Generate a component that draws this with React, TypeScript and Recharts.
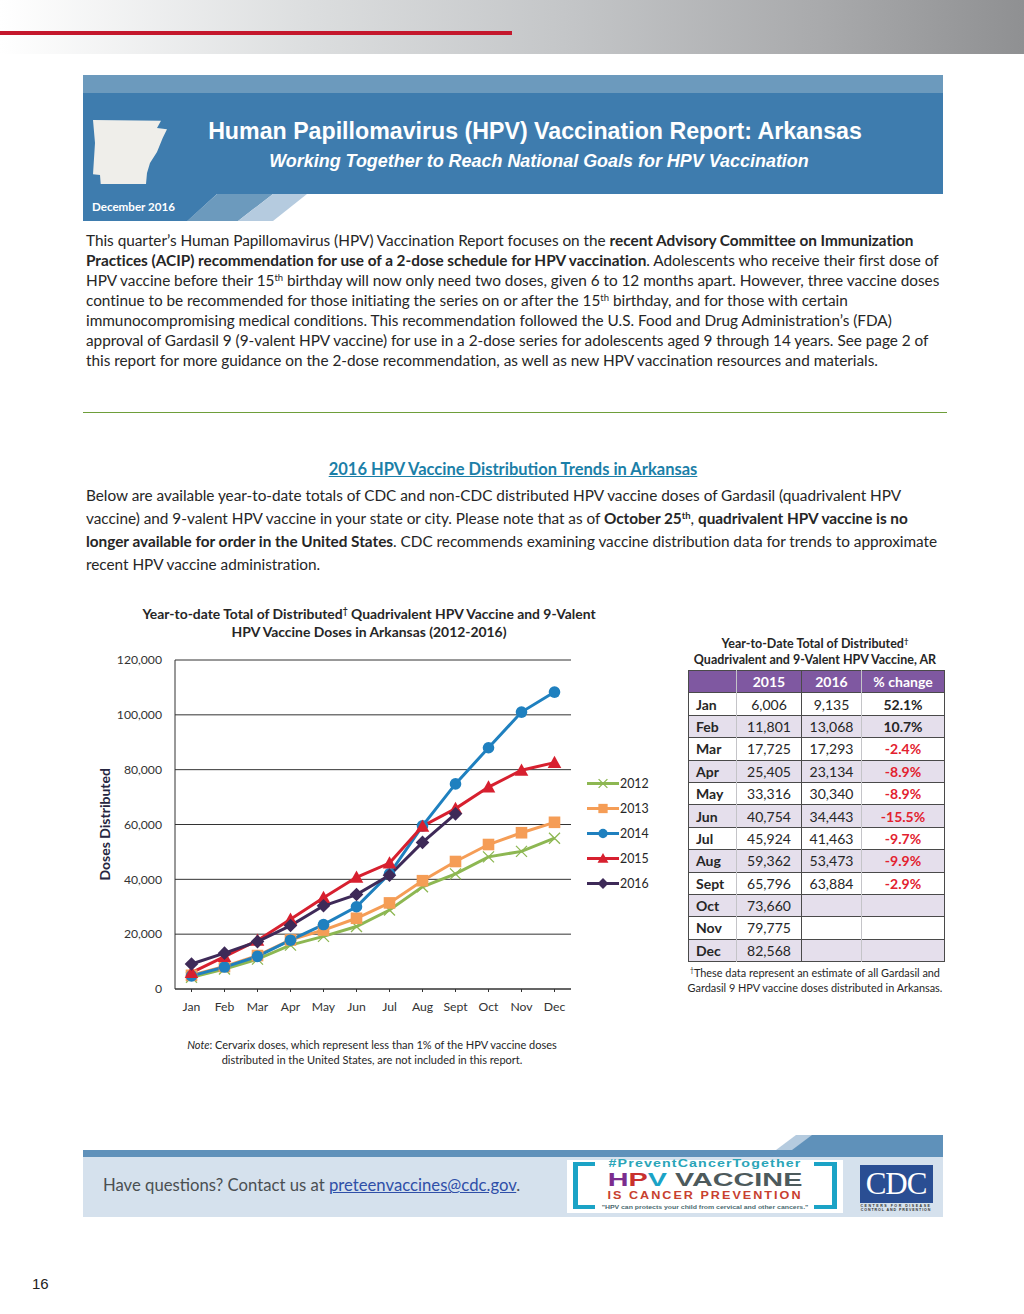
import React from "react";
import { LineChart, Line, XAxis, YAxis, CartesianGrid, Legend } from "recharts";

const months = ["Jan", "Feb", "Mar", "Apr", "May", "Jun", "Jul", "Aug", "Sept", "Oct", "Nov", "Dec"];
const yTicks = [0, 20000, 40000, 60000, 80000, 100000, 120000];

const doses2012 = [4300, 7300, 10900, 16000, 19200, 22800, 28800, 37300, 42000, 48200, 50200, 55000];
const doses2013 = [5000, 8200, 12200, 17900, 21500, 25800, 31400, 39500, 46500, 52700, 57000, 60800];
const doses2014 = [4800, 8000, 11900, 17800, 23500, 30000, 42000, 59500, 74800, 88000, 101000, 108300];
// from the table
const doses2015 = [6006, 11801, 17725, 25405, 33316, 40754, 45924, 59362, 65796, 73660, 79775, 82568];
const doses2016 = [9135, 13068, 17293, 23134, 30340, 34443, 41463, 53473, 63884];
const pctChange = [52.1, 10.7, -2.4, -8.9, -8.9, -15.5, -9.7, -9.9, -2.9];

const colors: any = { "2012": "#8DB752", "2013": "#F59D56", "2014": "#1F80BF", "2015": "#D7202F", "2016": "#3E2A58" };

const chartData = months.map((m, i) => ({
  month: m,
  y2012: doses2012[i],
  y2013: doses2013[i],
  y2014: doses2014[i],
  y2015: doses2015[i],
  y2016: i < doses2016.length ? doses2016[i] : null,
}));

const calibri = "Lato, 'Open Sans', sans-serif";
const arial = "'Liberation Sans', Arial, sans-serif";

function T({ x, y, size = 15, center, right, children, style }: any) {
  const base: any = {
    position: "absolute",
    top: y - 15,
    height: 30,
    lineHeight: "30px",
    whiteSpace: "nowrap",
    fontFamily: calibri,
    fontSize: size,
    color: "#262626",
  };
  if (center) {
    base.left = x - 500;
    base.width = 1000;
    base.textAlign = "center";
  } else {
    base.left = x;
  }
  return <div style={{ ...base, ...style }}>{children}</div>;
}

function Sup({ children }: any) {
  return <sup style={{ fontSize: "0.62em", lineHeight: 0, verticalAlign: "0.55em" }}>{children}</sup>;
}

function Marker({ name, cx, cy, scale = 1 }: any) {
  const c = colors[name];
  if (cy == null || cx == null) return null;
  if (name === "2012") {
    const r = 5.5 * scale;
    return <path d={`M${cx - r} ${cy - r}L${cx + r} ${cy + r}M${cx - r} ${cy + r}L${cx + r} ${cy - r}`} stroke={c} strokeWidth={1.3} fill="none" />;
  }
  if (name === "2013") {
    const r = 5.8 * scale;
    return <rect x={cx - r} y={cy - r} width={r * 2} height={r * 2} fill={c} />;
  }
  if (name === "2014") return <circle cx={cx} cy={cy} r={5.8 * scale} fill={c} />;
  if (name === "2015") {
    const r = 6.8 * scale;
    return <path d={`M${cx} ${cy - r}L${cx + r} ${cy + r * 0.8}L${cx - r} ${cy + r * 0.8}Z`} fill={c} />;
  }
  const r = 6.8 * scale;
  return <path d={`M${cx} ${cy - r}L${cx + r} ${cy}L${cx} ${cy + r}L${cx - r} ${cy}Z`} fill={c} />;
}

function LegendBox({ payload }: any) {
  return (
    <div>
      {(payload || []).map((p: any) => (
        <div key={p.value} style={{ height: 25, display: "flex", alignItems: "center", position: "relative" }}>
          <svg width={34} height={25} style={{ marginLeft: 16 }}>
            <line x1={0} x2={32} y1={12.5} y2={12.5} stroke={p.color} strokeWidth={3} />
            <Marker name={p.value} cx={16} cy={12.5} scale={0.8} />
          </svg>
          <span style={{ fontFamily: calibri, fontSize: 12.4, color: "#262626", marginLeft: -1 }}>{p.value}</span>
        </div>
      ))}
    </div>
  );
}

function DosesChart() {
  const series = ["2012", "2013", "2014", "2015", "2016"];
  return (
    <div style={{ position: "absolute", left: 90, top: 600 }}>
      <LineChart width={570} height={420} data={chartData} margin={{ top: 60, right: 0, bottom: 0, left: 0 }}>
        <CartesianGrid vertical={false} stroke="#333" strokeWidth={1} />
        <XAxis
          dataKey="month"
          height={31}
          padding={{ left: 16.5, right: 16.5 }}
          interval={0}
          tick={{ fontFamily: calibri, fontSize: 12.2, fill: "#333" }}
          tickSize={3}
          tickMargin={10}
          stroke="#333"
        />
        <YAxis
          width={85}
          domain={[0, 120000]}
          ticks={yTicks}
          tickFormatter={(v: number) => v.toLocaleString("en-US")}
          tick={{ fontFamily: calibri, fontSize: 12.2, fill: "#333" }}
          tickLine={false}
          tickSize={0}
          tickMargin={13}
          stroke="#333"
          label={{
            value: "Doses Distributed",
            angle: -90,
            position: "insideLeft",
            offset: 0,
            dx: 15,
            dy: 56,
            style: { fontFamily: calibri, fontSize: 14, fontWeight: 700, fill: "#262640" },
          }}
        />
        <Legend
          layout="vertical"
          align="right"
          verticalAlign="top"
          width={89}
          content={<LegendBox />}
          wrapperStyle={{ left: 481, top: 170.5, width: 89 }}
        />
        {series.map((s) => (
          <Line
            key={s}
            name={s}
            dataKey={"y" + s}
            stroke={colors[s]}
            strokeWidth={3}
            isAnimationActive={false}
            legendType="line"
            dot={(p: any) => <Marker key={p.index} name={s} cx={p.cx} cy={p.cy} />}
          />
        ))}
      </LineChart>
    </div>
  );
}

function DosesTable() {
  const cols = [48, 65, 60, 83];
  const line = "1px solid #4a4a4a";
  const soft = "1px solid #c4c4c8";
  const cell: any = { padding: 0, textAlign: "center", fontFamily: calibri, fontSize: 14, color: "#262626", boxSizing: "border-box" };
  return (
    <table
      style={{ position: "absolute", left: 688, top: 670, width: 256, tableLayout: "fixed", borderCollapse: "collapse", border: line }}
    >
      <colgroup>
        {cols.map((w, i) => (
          <col key={i} style={{ width: w }} />
        ))}
      </colgroup>
      <tbody>
        <tr style={{ height: 22.4, background: "#7F58A1" }}>
          <td style={{ ...cell, borderRight: soft }} />
          <td style={{ ...cell, color: "#fff", fontWeight: 700, borderRight: line }}>2015</td>
          <td style={{ ...cell, color: "#fff", fontWeight: 700, borderRight: soft }}>2016</td>
          <td style={{ ...cell, color: "#fff", fontWeight: 700 }}>% change</td>
        </tr>
        {months.map((m, i) => {
          const p = pctChange[i];
          return (
            <tr key={m} style={{ height: 22.4, background: i % 2 ? "#E5DFEC" : "#fff", borderTop: line }}>
              <td style={{ ...cell, textAlign: "left", paddingLeft: 7, fontWeight: 700, borderRight: soft }}>{m}</td>
              <td style={{ ...cell, borderRight: line }}>{doses2015[i].toLocaleString("en-US")}</td>
              <td style={{ ...cell, borderRight: soft }}>{doses2016[i] ? doses2016[i].toLocaleString("en-US") : ""}</td>
              <td style={{ ...cell, fontWeight: 700, color: p < 0 ? "#E3212F" : "#262626" }}>{p === undefined ? "" : p.toFixed(1) + "%"}</td>
            </tr>
          );
        })}
      </tbody>
    </table>
  );
}

function Box({ x, y, w, h, bg, style }: any) {
  return <div style={{ position: "absolute", left: x, top: y, width: w, height: h, background: bg, ...style }} />;
}

function Shapes() {
  return (
    <svg width={1024} height={1314} style={{ position: "absolute", left: 0, top: 0 }}>
      <polygon
        points="93,120 161,120.7 157,128 167,129.3 162.7,138 157,152 150,163 147,173 146,184 100.7,184 100,175 93,174.3 95,143"
        fill="#EFEEEA"
      />
      <polygon points="217,194 273,194 238,221 187,221" fill="#6C9ABD" />
      <polygon points="273,194 307,194 273,221 238,221" fill="#B5CBDF" />
      <polygon points="810,1135 943,1135 943,1150 781,1150" fill="#5F91BA" />
      <polygon points="796,1135 812,1135 792,1150 776,1150" fill="#B5CBDF" />
    </svg>
  );
}

function BodyText() {
  const s = 15.35;
  const ls = -0.02;
  const st = { letterSpacing: ls };
  return (
    <>
      <T x={86} y={240} size={s} style={st}>This quarter’s Human Papillomavirus (HPV) Vaccination Report focuses on the <b>recent Advisory Committee on Immunization</b></T>
      <T x={86} y={260} size={s} style={st}><b>Practices (ACIP) recommendation for use of a 2-dose schedule for HPV vaccination</b>. Adolescents who receive their first dose of</T>
      <T x={86} y={280} size={s} style={st}>HPV vaccine before their 15<Sup>th</Sup> birthday will now only need two doses, given 6 to 12 months apart. However, three vaccine doses</T>
      <T x={86} y={300} size={s} style={st}>continue to be recommended for those initiating the series on or after the 15<Sup>th</Sup> birthday, and for those with certain</T>
      <T x={86} y={320} size={s} style={st}>immunocompromising medical conditions. This recommendation followed the U.S. Food and Drug Administration’s (FDA)</T>
      <T x={86} y={340} size={s} style={st}>approval of Gardasil 9 (9-valent HPV vaccine) for use in a 2-dose series for adolescents aged 9 through 14 years.  See page 2 of</T>
      <T x={86} y={360} size={s} style={st}>this report for more guidance on the 2-dose recommendation, as well as new HPV vaccination resources and materials.</T>

      <T x={513} y={469} size={16.5} center style={{ fontWeight: 700, color: "#1B7FA8", textDecoration: "underline" }}>2016 HPV Vaccine Distribution Trends in Arkansas</T>

      <T x={86} y={495} size={s} style={st}>Below are available year-to-date totals of CDC and non-CDC distributed HPV vaccine doses of Gardasil (quadrivalent HPV</T>
      <T x={86} y={518} size={s} style={st}>vaccine) and 9-valent HPV vaccine in your state or city. Please note that as of <b>October 25<Sup>th</Sup></b>, <b>quadrivalent HPV vaccine is no</b></T>
      <T x={86} y={541} size={s} style={st}><b>longer available for order in the United States</b>. CDC recommends examining vaccine distribution data for trends to approximate</T>
      <T x={86} y={564} size={s} style={st}>recent HPV vaccine administration.</T>
    </>
  );
}

function Footer() {
  const logo = { fontFamily: arial, fontWeight: 700 };
  return (
    <>
      <Box x={83} y={1150} w={860} h={7} bg="#5F91BA" />
      <Box x={83} y={1157} w={860} h={60} bg="#D5E1ED" />
      <T x={103} y={1185} size={16.7} style={{ color: "#4a4f52" }}>
        Have questions? Contact us at <span style={{ color: "#2F4FA8", textDecoration: "underline" }}>preteenvaccines@cdc.gov</span>.
      </T>
      <Box x={567} y={1160} w={276} h={53} bg="#fff" />
      <Box x={573} y={1162} w={5} h={47} bg="#1BA3C6" />
      <Box x={573} y={1162} w={22} h={4} bg="#1BA3C6" />
      <Box x={573} y={1205} w={22} h={4} bg="#1BA3C6" />
      <Box x={832} y={1162} w={5} h={47} bg="#1BA3C6" />
      <Box x={814} y={1162} w={23} h={4} bg="#1BA3C6" />
      <Box x={814} y={1205} w={23} h={4} bg="#1BA3C6" />
      <T x={705} y={1164} size={10} center style={{ ...logo, color: "#2AA5B8", letterSpacing: 0.8, transform: "scaleX(1.42)" }}>#PreventCancerTogether</T>
      <T x={705} y={1180} size={18} center style={{ ...logo, color: "#4d5a5c", transform: "scaleX(1.6)" }}>
        <span style={{ color: "#7B2D8E" }}>H</span><span style={{ color: "#C8312E" }}>P</span><span style={{ color: "#1BA3C6" }}>V</span> VACCINE
      </T>
      <T x={705} y={1196} size={10} center style={{ ...logo, color: "#C8402E", letterSpacing: 1.6, transform: "scaleX(1.26)" }}>IS CANCER PREVENTION</T>
      <T x={705} y={1207} size={5} center style={{ ...logo, color: "#4a6a70", transform: "scaleX(1.38)" }}>"HPV can protects your child from cervical and other cancers."</T>
      <Box x={860} y={1165} w={73} h={38} bg="#2A4E93" />
      <T x={896} y={1184} size={31} center style={{ fontFamily: "'Liberation Serif', serif", color: "#fff", letterSpacing: -1 }}>CDC</T>
      <T x={896} y={1205.6} size={3.6} center style={{ ...logo, color: "#333", letterSpacing: 1.5 }}>CENTERS FOR DISEASE</T>
      <T x={896} y={1210} size={3.6} center style={{ ...logo, color: "#333", letterSpacing: 0.9 }}>CONTROL AND PREVENTION</T>
    </>
  );
}

export default function App() {
  return (
    <div style={{ position: "absolute", left: 0, top: 0, width: 1024, height: 1314, background: "#fff", overflow: "hidden" }}>
      <Box x={0} y={0} w={1024} h={54} bg="linear-gradient(90deg, #ffffff 0%, #dcdedf 30%, #c4c6c8 55%, #a9aaac 80%, #8f9092 100%)" />
      <Box x={0} y={31} w={512} h={4} bg="#C4172C" />

      <Box x={83} y={75} w={860} h={18} bg="#6C9ABD" />
      <Box x={83} y={93} w={860} h={101} bg="#3E7CAE" />
      <Box x={83} y={194} w={134} h={27} bg="#3E7CAE" style={{ clipPath: "polygon(0 0, 100% 0, 78% 100%, 0 100%)" }} />
      <Shapes />
      <T x={535} y={131} size={23.2} center style={{ fontFamily: arial, fontWeight: 700, color: "#fff" }}>Human Papillomavirus (HPV) Vaccination Report: Arkansas</T>
      <T x={539} y={161} size={17.95} center style={{ fontFamily: arial, fontWeight: 700, fontStyle: "italic", color: "#fff" }}>Working Together to Reach National Goals for HPV Vaccination</T>
      <T x={92} y={207} size={11.6} style={{ fontWeight: 700, color: "#fff" }}>December 2016</T>

      <BodyText />
      <Box x={83} y={412} w={864} h={1} bg="#6E9E3A" />

      <T x={369} y={614} size={13.9} center style={{ fontWeight: 700 }}>Year-to-date Total of Distributed<Sup>†</Sup> Quadrivalent HPV Vaccine and 9-Valent</T>
      <T x={369} y={632} size={13.9} center style={{ fontWeight: 700 }}>HPV Vaccine Doses in Arkansas (2012-2016)</T>
      <DosesChart />
      <T x={372} y={1045} size={11} center><i>Note</i>: Cervarix doses, which represent less than 1% of the HPV vaccine doses</T>
      <T x={372} y={1060} size={11} center>distributed in the United States, are not included in this report.</T>

      <T x={815} y={644} size={12.5} center style={{ fontWeight: 700 }}>Year-to-Date Total of Distributed<Sup>†</Sup></T>
      <T x={815} y={660} size={12.5} center style={{ fontWeight: 700 }}>Quadrivalent and 9-Valent HPV Vaccine, AR</T>
      <DosesTable />
      <T x={815} y={973} size={10.9} center><Sup>†</Sup>These data represent an estimate of all Gardasil and</T>
      <T x={815} y={988} size={10.9} center>Gardasil 9 HPV vaccine doses distributed in Arkansas.</T>

      <Footer />
      <T x={32} y={1284} size={15} style={{ fontFamily: arial, color: "#222" }}>16</T>
    </div>
  );
}
